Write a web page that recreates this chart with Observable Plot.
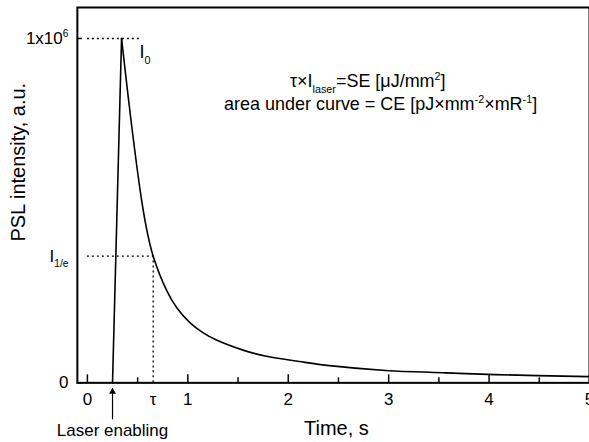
<!DOCTYPE html>
<html>
<head>
<meta charset="utf-8">
<script src="https://cdn.jsdelivr.net/npm/d3@7"></script>
<script src="https://cdn.jsdelivr.net/npm/@observablehq/plot@0.6"></script>
<style>
  html, body { margin: 0; padding: 0; background: #fff; overflow: hidden; }
  svg { display: block; }
</style>
</head>
<body>
<div id="chart"></div>
<script>
// PSL decay curve after the readout laser is switched on
const time      = [0.25, 0.34, 0.44, 0.54, 0.60, 0.655, 0.79, 0.89, 1.02, 1.15, 1.28, 1.55, 1.78, 2.11, 2.41, 2.97, 3.57, 4.06, 5.00];
const intensity = [0, 1000000, 748000, 530000, 432000, 367879, 268000, 218000, 175000, 146000, 125000, 95000, 77000, 62000, 50000, 36000, 29000, 24000, 18000];

const laserOn = 0.25;          // s, laser enabling
const peakTime = 0.34;         // s
const I0 = 1000000;            // peak intensity
const I1e = I0 / Math.E;       // I0 / e
const tau = 0.655;             // s, time where intensity falls to I0/e
const peakGuideEnd = 0.54;     // end of the dotted I0 guide
const xDomain = [-0.1, 5.0];
const yDomain = [0, 1090000];

const xMajor = [0, 1, 2, 3, 4, 5];
const xMinor = [0.5, 1.5, 2.5, 3.5, 4.5];
const yTicks = [0, I0];
const yTickText = ["0", "1x10^{6}"];

const annotation1 = "τ×I_{laser}=SE [μJ/mm^{2}]";
const annotation2 = "area under curve = CE [pJ×mm^{-2}×mR^{-1}]";

const rows = time.map((t, i) => ({t, v: intensity[i]}));
const rise = rows.slice(0, 2);
const decay = rows.slice(1);

const dotted = {stroke: "black", strokeWidth: 1.3, strokeDasharray: "2,3"};
const tickStyle = {stroke: "black", strokeWidth: 1.5};

const chart = Plot.plot({
  width: 590,
  height: 442,
  marginLeft: 77,
  marginRight: 0,
  marginTop: 7,
  marginBottom: 59,
  style: {fontFamily: "'Liberation Sans', Arial, Helvetica, sans-serif", fontSize: "16px", color: "black", background: "white"},
  x: {domain: xDomain, label: null},
  y: {domain: yDomain, label: null},
  marks: [
    // guide lines
    Plot.ruleY([I0], {y: d => d, x2: () => peakGuideEnd, ...dotted}),
    Plot.ruleY([I1e], {y: d => d, x2: () => tau, ...dotted}),
    Plot.ruleX([tau], {x: d => d, y1: 0, y2: () => I1e, ...dotted}),

    // curve
    Plot.line(rise, {x: "t", y: "v", stroke: "black", strokeWidth: 1.6, curve: "linear"}),
    Plot.line(decay, {x: "t", y: "v", stroke: "black", strokeWidth: 1.6, curve: "catmull-rom"}),

    // frame
    Plot.frame({stroke: "black", strokeWidth: 2}),

    // inward tick marks
    Plot.ruleX(xMajor, {x: d => d, y1: 0, y2: 0, insetTop: -8, ...tickStyle}),
    Plot.ruleX(xMinor, {x: d => d, y1: 0, y2: 0, insetTop: -5, ...tickStyle}),
    Plot.ruleY(yTicks, {y: d => d, x1: () => xDomain[0], x2: () => xDomain[0], insetRight: -5, ...tickStyle}),

    // tick labels
    Plot.axisX(xMajor, {tickSize: 0, tickPadding: 10, fontSize: 17, label: null, tickFormat: d => String(d)}),
    Plot.axisX([tau], {tickSize: 0, tickPadding: 10, fontSize: 17, label: null, tickFormat: () => "τ"}),
    Plot.axisY(yTicks, {tickSize: 0, tickPadding: 9, fontSize: 17, label: null, tickFormat: d => yTickText[yTicks.indexOf(d)]}),
    Plot.axisY([I1e], {tickSize: 0, tickPadding: 9, fontSize: 17, label: null, tickFormat: () => "I_{1/e}"}),

    // peak label
    Plot.text([I0], {x: () => peakTime, y: d => d, text: () => "I_{0}", dx: 18, dy: 7, lineAnchor: "top", textAnchor: "start", fontSize: 18}),

    // laser enabling marker
    Plot.ruleX([laserOn], {x: d => d, y1: 0, y2: 0, insetTop: 6, insetBottom: -37, stroke: "black", strokeWidth: 1.2}),
    Plot.dot([laserOn], {x: d => d, y: 0, dy: 9, symbol: "triangle", r: 2.6, fill: "black", stroke: null}),
    Plot.text([laserOn], {x: d => d, y: 0, dy: 53, text: () => "Laser enabling", lineAnchor: "bottom", textAnchor: "middle", fontSize: 17}),

    // annotations
    Plot.text([annotation1], {text: d => d, frameAnchor: "top-left", dx: 213, dy: 80, textAnchor: "start", lineAnchor: "bottom", fontSize: 18}),
    Plot.text([annotation2], {text: d => d, frameAnchor: "top-left", dx: 147, dy: 103, textAnchor: "start", lineAnchor: "bottom", fontSize: 18}),

    // axis titles
    Plot.text(["Time, s"], {text: d => d, frameAnchor: "bottom", dx: 3, dy: 52, lineAnchor: "bottom", textAnchor: "middle", fontSize: 20}),
    Plot.text(["PSL intensity, a.u."], {text: d => d, frameAnchor: "left", rotate: -90, dx: -59, dy: -33, lineAnchor: "middle", textAnchor: "middle", fontSize: 20})
  ]
});

document.getElementById("chart").appendChild(chart);

// Turn _{...} and ^{...} into sub- and superscript tspans
function formatScripts(root) {
  d3.select(root).selectAll("text").each(function () {
    const s = this.textContent;
    if (!/[_^]\{/.test(s)) return;
    const fs = parseFloat(getComputedStyle(this).fontSize) || 16;
    const el = d3.select(this);
    el.text(null);
    let shift = 0;
    const add = (str, target, small) => {
      if (!str) return;
      const t = el.append("tspan").text(str);
      if (target !== shift) t.attr("dy", target - shift);
      if (small) t.attr("font-size", fs * 0.6);
      shift = target;
    };
    const re = /([_^])\{([^}]*)\}/g;
    let last = 0, m;
    while ((m = re.exec(s))) {
      add(s.slice(last, m.index), 0, false);
      add(m[2], m[1] === "_" ? fs * 0.3 : -fs * 0.42, true);
      last = re.lastIndex;
    }
    add(s.slice(last), 0, false);
  });
}
formatScripts(chart);
</script>
</body>
</html>
